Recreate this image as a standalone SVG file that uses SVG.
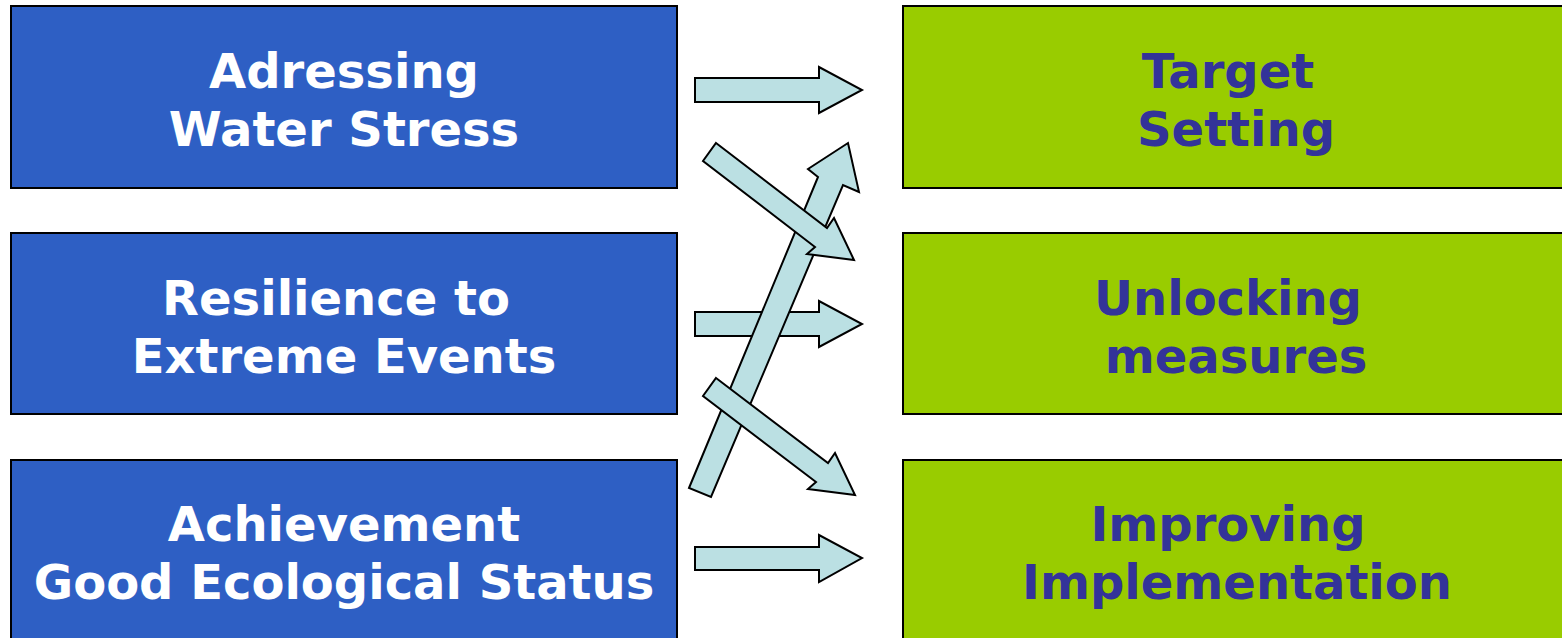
<svg xmlns="http://www.w3.org/2000/svg" width="1562" height="638" viewBox="0 0 1562 638">
<style>
.l{fill:#2E5FC4;stroke:#000;stroke-width:2}
.r{fill:#99CC00;stroke:#000;stroke-width:2}
.lt{font-family:"DejaVu Sans",Verdana,sans-serif;font-weight:bold;font-size:48px;fill:#fff;text-anchor:middle}
.rt{font-family:"DejaVu Sans",Verdana,sans-serif;font-weight:bold;font-size:48px;fill:#333399;text-anchor:middle}
.a{fill:#BBE0E3;stroke:#000;stroke-width:2;stroke-linejoin:miter}
</style>
<rect width="1562" height="638" fill="#fff"/>
<g id="n1"><rect class="l" x="11" y="6" width="666" height="182"/><text class="lt" x="344" y="88">Adressing</text><text class="lt" x="344" y="146">Water Stress</text></g>
<g id="n2"><rect class="l" x="11" y="233" width="666" height="181"/><text class="lt" x="336" y="315">Resilience to</text><text class="lt" x="344" y="373">Extreme Events</text></g>
<g id="n3"><rect class="l" x="11" y="460" width="666" height="182"/><text class="lt" x="344" y="541">Achievement</text><text class="lt" x="344" y="599">Good Ecological Status</text></g>
<g id="n4"><rect class="r" x="903" y="6" width="670" height="182"/><text class="rt" x="1228" y="88">Target</text><text class="rt" x="1236" y="146">Setting</text></g>
<g id="n5"><rect class="r" x="903" y="233" width="670" height="181"/><text class="rt" x="1228" y="315">Unlocking</text><text class="rt" x="1236" y="373">measures</text></g>
<g id="n6"><rect class="r" x="903" y="460" width="670" height="182"/><text class="rt" x="1228" y="541">Improving</text><text class="rt" x="1237" y="599">Implementation</text></g>
<g id="connectors">
<polygon class="a" points="695,78 819,78 819,67 862,90 819,113 819,102 695,102"/>
<polygon class="a" points="695,312 819,312 819,301 862,324 819,347 819,336 695,336"/>
<polygon class="a" points="695,547 819,547 819,535 862,558 819,582 819,570 695,570"/>
<polygon class="a" points="689,488 818,177 808,169 848,143 859,192 843,185 711,497"/>
<polygon class="a" points="716,143 827,228 834,218 854,260 807,254 815,247 703,161"/>
<polygon class="a" points="716,378 828,463 835,453 855,495 808,489 816,482 703,396"/>
</g>
</svg>
